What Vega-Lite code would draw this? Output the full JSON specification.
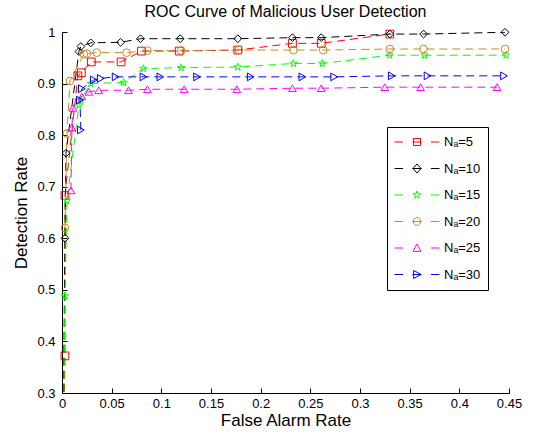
{
  "$schema": "https://vega.github.io/schema/vega-lite/v6.json",
  "autosize": {"type": "none"},
  "padding": {"left": 62, "top": 32, "right": 24, "bottom": 46},
  "width": 447,
  "height": 361,
  "title": {"text": "ROC Curve of Malicious User Detection", "fontSize": 16, "font": "Liberation Sans", "fontWeight": "normal", "color": "black", "offset": 6, "anchor": "middle"},
  "config": {
    "view": {"stroke": null},
    "font": "Liberation Sans",
    "axis": {"domainColor": "black", "tickColor": "black", "labelColor": "black", "titleColor": "black", "grid": false, "labelFont": "Liberation Sans", "titleFont": "Liberation Sans", "titleFontWeight": "normal", "labelFontSize": 13, "titleFontSize": 17}
  },
  "data": {"values": [
    {"s": "Nₐ=5", "i": 0, "x": 0, "y": 0},
    {"s": "Nₐ=5", "i": 1, "x": 0.003, "y": 0.372},
    {"s": "Nₐ=5", "i": 2, "x": 0.003, "y": 0.683},
    {"s": "Nₐ=5", "i": 3, "x": 0.016, "y": 0.915},
    {"s": "Nₐ=5", "i": 4, "x": 0.0195, "y": 0.921},
    {"s": "Nₐ=5", "i": 5, "x": 0.0295, "y": 0.942},
    {"s": "Nₐ=5", "i": 6, "x": 0.0595, "y": 0.942},
    {"s": "Nₐ=5", "i": 7, "x": 0.08, "y": 0.963},
    {"s": "Nₐ=5", "i": 8, "x": 0.118, "y": 0.963},
    {"s": "Nₐ=5", "i": 9, "x": 0.177, "y": 0.965},
    {"s": "Nₐ=5", "i": 10, "x": 0.232, "y": 0.978},
    {"s": "Nₐ=5", "i": 11, "x": 0.261, "y": 0.978},
    {"s": "Nₐ=5", "i": 12, "x": 0.33, "y": 0.996},
    {"s": "Nₐ=10", "i": 0, "x": 0, "y": 0},
    {"s": "Nₐ=10", "i": 1, "x": 0.003, "y": 0.6},
    {"s": "Nₐ=10", "i": 2, "x": 0.004, "y": 0.765},
    {"s": "Nₐ=10", "i": 3, "x": 0.017, "y": 0.962},
    {"s": "Nₐ=10", "i": 4, "x": 0.019, "y": 0.972},
    {"s": "Nₐ=10", "i": 5, "x": 0.029, "y": 0.979},
    {"s": "Nₐ=10", "i": 6, "x": 0.059, "y": 0.98},
    {"s": "Nₐ=10", "i": 7, "x": 0.079, "y": 0.987},
    {"s": "Nₐ=10", "i": 8, "x": 0.119, "y": 0.987},
    {"s": "Nₐ=10", "i": 9, "x": 0.177, "y": 0.987},
    {"s": "Nₐ=10", "i": 10, "x": 0.232, "y": 0.989},
    {"s": "Nₐ=10", "i": 11, "x": 0.261, "y": 0.989},
    {"s": "Nₐ=10", "i": 12, "x": 0.33, "y": 0.996},
    {"s": "Nₐ=10", "i": 13, "x": 0.364, "y": 0.996},
    {"s": "Nₐ=10", "i": 14, "x": 0.446, "y": 0.9995},
    {"s": "Nₐ=15", "i": 0, "x": 0, "y": 0},
    {"s": "Nₐ=15", "i": 1, "x": 0.003, "y": 0.488},
    {"s": "Nₐ=15", "i": 2, "x": 0.005, "y": 0.673},
    {"s": "Nₐ=15", "i": 3, "x": 0.017, "y": 0.858},
    {"s": "Nₐ=15", "i": 4, "x": 0.019, "y": 0.869},
    {"s": "Nₐ=15", "i": 5, "x": 0.029, "y": 0.9},
    {"s": "Nₐ=15", "i": 6, "x": 0.062, "y": 0.902},
    {"s": "Nₐ=15", "i": 7, "x": 0.082, "y": 0.929},
    {"s": "Nₐ=15", "i": 8, "x": 0.12, "y": 0.931},
    {"s": "Nₐ=15", "i": 9, "x": 0.177, "y": 0.932},
    {"s": "Nₐ=15", "i": 10, "x": 0.233, "y": 0.939},
    {"s": "Nₐ=15", "i": 11, "x": 0.262, "y": 0.939},
    {"s": "Nₐ=15", "i": 12, "x": 0.33, "y": 0.955},
    {"s": "Nₐ=15", "i": 13, "x": 0.365, "y": 0.955},
    {"s": "Nₐ=15", "i": 14, "x": 0.447, "y": 0.955},
    {"s": "Nₐ=20", "i": 0, "x": 0.003, "y": 0.62},
    {"s": "Nₐ=20", "i": 1, "x": 0.005, "y": 0.803},
    {"s": "Nₐ=20", "i": 2, "x": 0.008, "y": 0.905},
    {"s": "Nₐ=20", "i": 3, "x": 0.022, "y": 0.957},
    {"s": "Nₐ=20", "i": 4, "x": 0.025, "y": 0.958},
    {"s": "Nₐ=20", "i": 5, "x": 0.035, "y": 0.96},
    {"s": "Nₐ=20", "i": 6, "x": 0.065, "y": 0.96},
    {"s": "Nₐ=20", "i": 7, "x": 0.086, "y": 0.964},
    {"s": "Nₐ=20", "i": 8, "x": 0.12, "y": 0.964},
    {"s": "Nₐ=20", "i": 9, "x": 0.178, "y": 0.965},
    {"s": "Nₐ=20", "i": 10, "x": 0.233, "y": 0.965},
    {"s": "Nₐ=20", "i": 11, "x": 0.263, "y": 0.965},
    {"s": "Nₐ=20", "i": 12, "x": 0.33, "y": 0.967},
    {"s": "Nₐ=20", "i": 13, "x": 0.364, "y": 0.967},
    {"s": "Nₐ=20", "i": 14, "x": 0.446, "y": 0.967},
    {"s": "Nₐ=25", "i": 0, "x": 0.009, "y": 0.693},
    {"s": "Nₐ=25", "i": 1, "x": 0.01, "y": 0.815},
    {"s": "Nₐ=25", "i": 2, "x": 0.011, "y": 0.853},
    {"s": "Nₐ=25", "i": 3, "x": 0.02, "y": 0.875},
    {"s": "Nₐ=25", "i": 4, "x": 0.027, "y": 0.884},
    {"s": "Nₐ=25", "i": 5, "x": 0.037, "y": 0.887},
    {"s": "Nₐ=25", "i": 6, "x": 0.067, "y": 0.887},
    {"s": "Nₐ=25", "i": 7, "x": 0.086, "y": 0.889},
    {"s": "Nₐ=25", "i": 8, "x": 0.123, "y": 0.889},
    {"s": "Nₐ=25", "i": 9, "x": 0.176, "y": 0.889},
    {"s": "Nₐ=25", "i": 10, "x": 0.232, "y": 0.891},
    {"s": "Nₐ=25", "i": 11, "x": 0.261, "y": 0.891},
    {"s": "Nₐ=25", "i": 12, "x": 0.325, "y": 0.893},
    {"s": "Nₐ=25", "i": 13, "x": 0.361, "y": 0.893},
    {"s": "Nₐ=25", "i": 14, "x": 0.438, "y": 0.893},
    {"s": "Nₐ=30", "i": 0, "x": 0.019, "y": 0.81},
    {"s": "Nₐ=30", "i": 1, "x": 0.018, "y": 0.868},
    {"s": "Nₐ=30", "i": 2, "x": 0.02, "y": 0.89},
    {"s": "Nₐ=30", "i": 3, "x": 0.032, "y": 0.907},
    {"s": "Nₐ=30", "i": 4, "x": 0.039, "y": 0.91},
    {"s": "Nₐ=30", "i": 5, "x": 0.054, "y": 0.913},
    {"s": "Nₐ=30", "i": 6, "x": 0.082, "y": 0.913},
    {"s": "Nₐ=30", "i": 7, "x": 0.099, "y": 0.913},
    {"s": "Nₐ=30", "i": 8, "x": 0.136, "y": 0.913},
    {"s": "Nₐ=30", "i": 9, "x": 0.19, "y": 0.913},
    {"s": "Nₐ=30", "i": 10, "x": 0.242, "y": 0.913},
    {"s": "Nₐ=30", "i": 11, "x": 0.274, "y": 0.913},
    {"s": "Nₐ=30", "i": 12, "x": 0.332, "y": 0.915},
    {"s": "Nₐ=30", "i": 13, "x": 0.368, "y": 0.915},
    {"s": "Nₐ=30", "i": 14, "x": 0.445, "y": 0.915}
  ]},
  "encoding": {
    "x": {"field": "x", "type": "quantitative", "scale": {"domain": [0, 0.45], "nice": false, "zero": false}, "axis": {"title": "False Alarm Rate", "values": [0, 0.05, 0.1, 0.15, 0.2, 0.25, 0.3, 0.35, 0.4, 0.45], "format": "~g", "tickSize": -5, "labelPadding": 9, "titlePadding": 2, "labelFlush": false}},
    "y": {"field": "y", "type": "quantitative", "scale": {"domain": [0.3, 1], "nice": false, "zero": false}, "axis": {"title": "Detection Rate", "values": [0.3, 0.4, 0.5, 0.6, 0.7, 0.8, 0.9, 1], "format": "~g", "tickSize": -5, "labelPadding": 12, "titlePadding": 6, "labelFlush": false}}
  },
  "layer": [
    {
      "mark": {"type": "line", "clip": true, "strokeWidth": 1, "strokeDash": [8, 5]},
      "encoding": {
        "color": {"field": "s", "type": "nominal", "scale": {"domain": ["Nₐ=5", "Nₐ=10", "Nₐ=15", "Nₐ=20", "Nₐ=25", "Nₐ=30"], "range": ["#FF0000", "#000000", "#00FF00", "#C8891E", "#FF00FF", "#0000FF"]}, "legend": null},
        "order": {"field": "i", "type": "quantitative"}
      }
    },
    {
      "transform": [{"filter": "datum.y >= 0.3"}],
      "mark": {"type": "point", "filled": false, "strokeWidth": 1, "size": 60, "opacity": 1},
      "encoding": {
        "color": {"field": "s", "type": "nominal", "scale": {"domain": ["Nₐ=5", "Nₐ=10", "Nₐ=15", "Nₐ=20", "Nₐ=25", "Nₐ=30"], "range": ["#FF0000", "#000000", "#00FF00", "#C8891E", "#FF00FF", "#0000FF"]}, "legend": null},
        "shape": {"field": "s", "type": "nominal", "scale": {"domain": ["Nₐ=5", "Nₐ=10", "Nₐ=15", "Nₐ=20", "Nₐ=25", "Nₐ=30"], "range": ["square", "diamond", "M0,-1L0.235,-0.324L0.951,-0.309L0.38,0.124L0.588,0.809L0,0.4L-0.588,0.809L-0.38,0.124L-0.951,-0.309L-0.235,-0.324Z", "circle", "triangle-up", "triangle-right"]}, "legend": null}
      }
    },
    {
      "transform": [{"filter": "datum.y >= 0.3"}],
      "mark": {"type": "point", "filled": false, "strokeWidth": 1, "opacity": 0},
      "encoding": {
        "color": {"field": "s", "type": "nominal", "scale": {"domain": ["Nₐ=5", "Nₐ=10", "Nₐ=15", "Nₐ=20", "Nₐ=25", "Nₐ=30"], "range": ["#FF0000", "#000000", "#00FF00", "#C8891E", "#FF00FF", "#0000FF"]},
          "legend": {"title": null, "orient": "none", "legendX": 325, "legendY": 95, "padding": 7, "strokeColor": "black", "fillColor": "white", "symbolSize": 2025, "clipHeight": 16, "rowPadding": 10.5, "labelOffset": 4, "symbolStrokeWidth": 1, "symbolOpacity": 1, "labelFontSize": 13, "labelFont": "Liberation Sans", "labelColor": "black", "symbolOffset": 0}},
        "shape": {"field": "s", "type": "nominal", "scale": {"domain": ["Nₐ=5", "Nₐ=10", "Nₐ=15", "Nₐ=20", "Nₐ=25", "Nₐ=30"], "range": [
          "M-1,0H-0.62M-0.2,0H0.2M0.62,0H1M-0.156,-0.156H0.156V0.156H-0.156Z",
          "M-1,0H-0.62M-0.2,0H0.2M0.62,0H1M0,-0.2L0.18,0L0,0.2L-0.18,0Z",
          "M-1,0H-0.62M0.62,0H1M0,-0.18L0.0423,-0.0582L0.1712,-0.0556L0.0685,0.0222L0.1058,0.1456L0,0.072L-0.1058,0.1456L-0.0685,0.0222L-0.1712,-0.0556L-0.0423,-0.0582Z",
          "M-1,0H-0.62M-0.2,0H0.2M0.62,0H1M-0.17,0A0.17,0.17 0 1,0 0.17,0A0.17,0.17 0 1,0 -0.17,0Z",
          "M-1,0H-0.62M0.62,0H1M0,-0.18L0.18,0.15L-0.18,0.15Z",
          "M-1,0H-0.62M-0.2,0H0.2M0.62,0H1M0.18,0L-0.15,-0.18L-0.15,0.18Z"
        ]}}
      }
    }
  ],
  "resolve": {"scale": {"color": "independent", "shape": "independent"}}
}
